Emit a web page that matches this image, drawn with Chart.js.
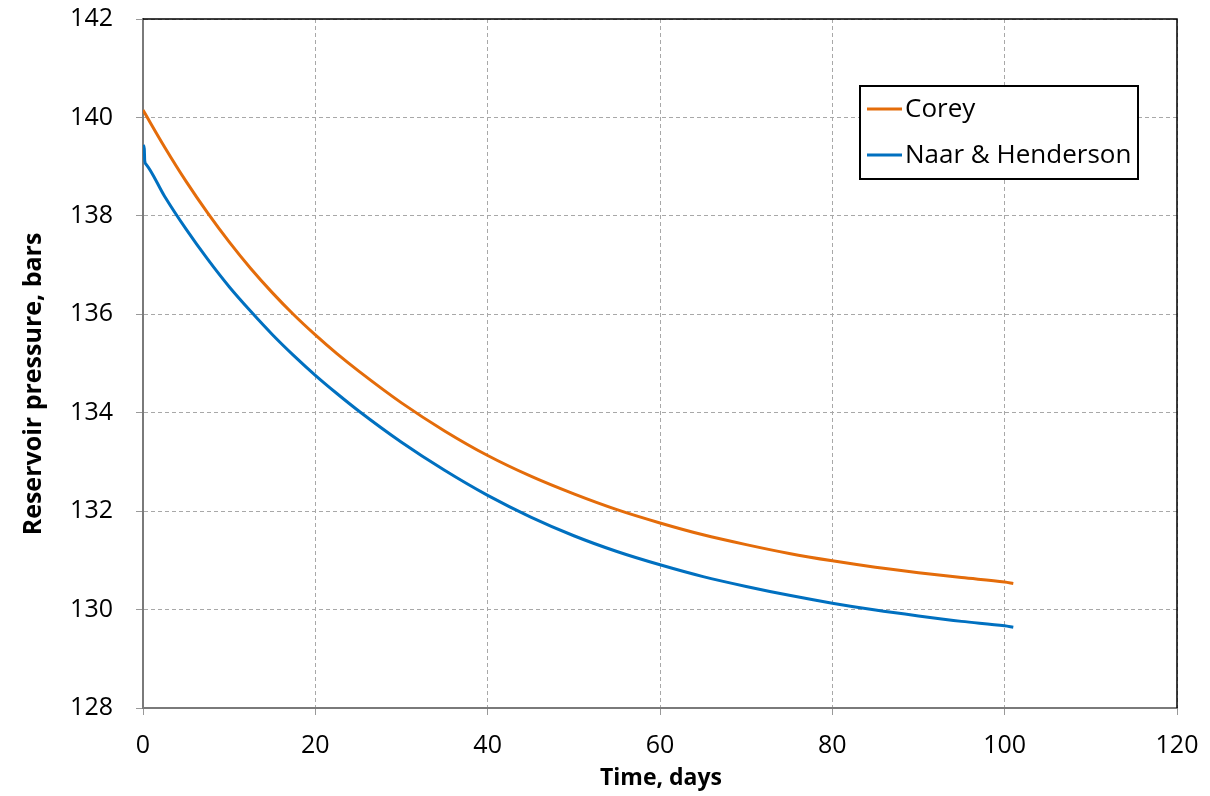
<!DOCTYPE html>
<html>
<head>
<meta charset="utf-8">
<style>
  html, body { margin: 0; padding: 0; background: #fff; }
  #wrap { width: 1210px; height: 796px; }
</style>
<script src="https://cdn.jsdelivr.net/npm/chart.js@4.4.1/dist/chart.umd.min.js"></script>
</head>
<body>
<div id="wrap"><canvas id="pressureChart" width="1210" height="796"></canvas></div>
<script>
// data
const coreyDays = [0, 2.5, 5, 7.5, 10, 12.5, 15, 17.5, 20, 22.5, 25, 30, 35, 40, 45, 50, 55, 60, 65, 70, 75, 80, 85, 90, 95, 100, 101];
const coreyPressure = [140.15, 139.4, 138.7, 138.06, 137.47, 136.93, 136.44, 135.99, 135.58, 135.2, 134.85, 134.2, 133.63, 133.13, 132.71, 132.35, 132.03, 131.76, 131.52, 131.32, 131.14, 130.99, 130.86, 130.75, 130.65, 130.56, 130.53];

const naarDays = [0, 0.15, 0.2, 0.35, 2.5, 5, 7.5, 10, 12.5, 15, 17.5, 20, 22.5, 25, 30, 35, 40, 45, 50, 55, 60, 65, 70, 75, 80, 85, 90, 95, 100, 101];
const naarPressure = [139.44, 139.36, 139.12, 139.05, 138.4, 137.73, 137.12, 136.56, 136.06, 135.59, 135.16, 134.76, 134.39, 134.04, 133.4, 132.83, 132.32, 131.88, 131.5, 131.18, 130.91, 130.67, 130.47, 130.29, 130.13, 129.99, 129.87, 129.76, 129.67, 129.64];

const xTicks = [0, 20, 40, 60, 80, 100, 120];
const yTicks = [128, 130, 132, 134, 136, 138, 140, 142];

const xTitle = 'Time, days';
const yTitle = 'Reservoir pressure, bars';

const FONT = '"Open Sans", sans-serif';

function toPoints(xs, ys) {
    return xs.map((x, i) => ({ x: x, y: ys[i] }));
}

/* =========================
   Frame, titles and legend box
   ========================= */

const frameAndLegend = {
    id: 'frameAndLegend',
    afterDraw(chart) {
        const ctx = chart.ctx;
        const a = chart.chartArea;
        ctx.save();
        // top and right frame
        ctx.strokeStyle = '#000';
        ctx.lineWidth = 1.5;
        ctx.beginPath();
        ctx.moveTo(a.left, a.top);
        ctx.lineTo(a.right, a.top);
        ctx.lineTo(a.right, a.bottom);
        ctx.stroke();

        // axis titles
        ctx.fillStyle = '#000';
        ctx.font = 'bold 23px ' + FONT;
        ctx.textAlign = 'center';
        ctx.textBaseline = 'alphabetic';
        ctx.fillText(xTitle, (a.left + a.right) / 2 + 1, 785);
        ctx.save();
        ctx.translate(41, 384);
        ctx.rotate(-Math.PI / 2);
        ctx.font = 'bold 25px ' + FONT;
        ctx.fillText(yTitle, 0, 0);
        ctx.restore();

        // legend
        const bx = 860, by = 86, bw = 278, bh = 93;
        ctx.fillStyle = '#fff';
        ctx.fillRect(bx, by, bw, bh);
        ctx.strokeStyle = '#000';
        ctx.lineWidth = 2;
        ctx.strokeRect(bx, by, bw, bh);
        const rows = [109, 155];
        ctx.font = '26px ' + FONT;
        ctx.textAlign = 'left';
        ctx.textBaseline = 'middle';
        chart.data.datasets.forEach((ds, i) => {
            const y = rows[i];
            ctx.strokeStyle = ds.borderColor;
            ctx.lineWidth = 3;
            ctx.beginPath();
            ctx.moveTo(867, y);
            ctx.lineTo(902, y);
            ctx.stroke();
            ctx.fillStyle = '#000';
            ctx.fillText(ds.label, 905, y + 1);
        });
        ctx.restore();
    }
};

const gridOpts = {
    color: '#a8a8a8',
    tickBorderDash: [],
    tickColor: '#999',
    tickLength: 7,
    lineWidth: 1
};

const ctx = document.getElementById('pressureChart').getContext('2d');
new Chart(ctx, {
    type: 'line',
    data: {
        datasets: [
            {
                label: 'Corey',
                data: toPoints(coreyDays, coreyPressure),
                borderColor: '#e46c0a',
                borderWidth: 3,
                pointRadius: 0,
                cubicInterpolationMode: 'monotone',
                fill: false
            },
            {
                label: 'Naar & Henderson',
                data: toPoints(naarDays, naarPressure),
                borderColor: '#0070c0',
                borderWidth: 3,
                pointRadius: 0,
                cubicInterpolationMode: 'monotone',
                fill: false
            }
        ]
    },
    options: {
        responsive: false,
        animation: false,
        layout: { padding: { top: 19, right: 33, left: 0, bottom: 0 } },
        plugins: {
            legend: { display: false },
            tooltip: { enabled: false }
        },
        scales: {
            x: {
                type: 'linear',
                min: 0,
                max: 120,
                afterFit: s => { s.height = 88; s.paddingLeft = 0; s.paddingRight = 0; },
                afterBuildTicks: s => { s.ticks = xTicks.map(v => ({ value: v })); },
                ticks: {
                    font: { family: FONT, size: 25 },
                    color: '#000',
                    padding: 16,
                    maxRotation: 0
                },
                grid: gridOpts,
                border: { color: '#7a7a7a', width: 2, dash: [4, 3] }
            },
            y: {
                min: 128,
                max: 142,
                afterFit: s => { s.width = 143; s.paddingTop = 0; s.paddingBottom = 0; },
                afterBuildTicks: s => { s.ticks = yTicks.map(v => ({ value: v })); },
                ticks: {
                    font: { family: FONT, size: 25 },
                    color: '#000',
                    padding: 23
                },
                grid: gridOpts,
                border: { color: '#7a7a7a', width: 2, dash: [4, 3] }
            }
        }
    },
    plugins: [frameAndLegend]
});
</script>
</body>
</html>
